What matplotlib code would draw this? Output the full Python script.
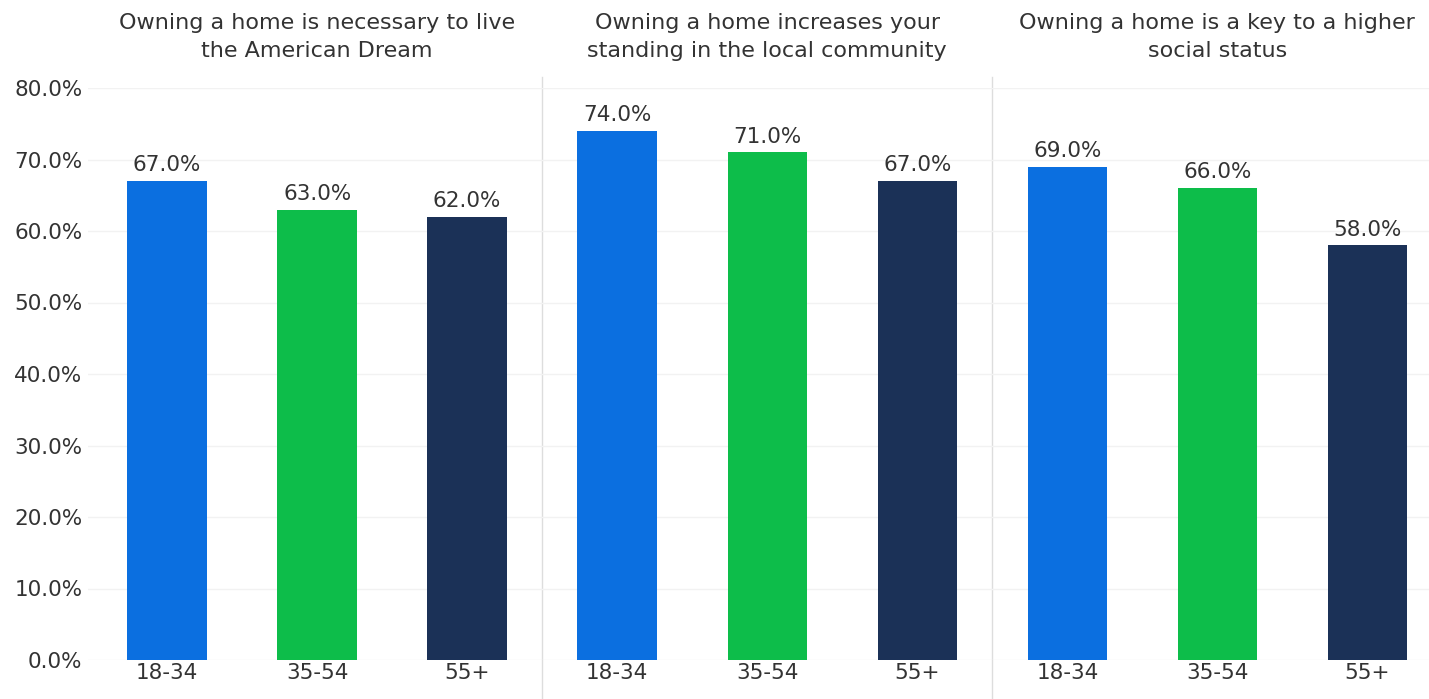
import matplotlib.pyplot as plt
import numpy as np

plt.rcParams['font.family'] = ['DejaVu Sans']

titles = ["Owning a home is necessary to live\nthe American Dream",
          "Owning a home increases your\nstanding in the local community",
          "Owning a home is a key to a higher\nsocial status"]
age_groups = ["18-34", "35-54", "55+"]
values = [[67.0, 63.0, 62.0],
          [74.0, 71.0, 67.0],
          [69.0, 66.0, 58.0]]
colors = ["#0b6fe0", "#0dbd4a", "#1b3157"]
text_color = "#333333"

fig = plt.figure(figsize=(14.29, 6.99), dpi=100)
ax = fig.add_axes([88 / 1429, 1 - 660 / 699, (1429 - 88) / 1429, (660 - 88) / 699])

x = np.arange(len(titles) * len(age_groups))
for p in range(len(titles)):
    for i in range(len(age_groups)):
        xi = p * len(age_groups) + i
        v = values[p][i]
        ax.bar(xi, v, width=0.53, color=colors[i], zorder=3)
        ax.text(xi, v + 0.8, "%.1f%%" % v, ha='center', va='bottom',
                fontsize=15.5, color=text_color)
    ax.text(p * 3 + 1, 1.048, titles[p], transform=ax.get_xaxis_transform(),
            ha='center', va='bottom', fontsize=16, color=text_color,
            linespacing=1.45)
    if p > 0:
        # panel separator runs a bit past the plot area, like the original
        ax.plot([p * 3 - 0.5] * 2, [-0.07, 1.02], color="#dddddd", lw=1,
                transform=ax.get_xaxis_transform(), clip_on=False, zorder=1)

ax.set_xlim(-0.527, 8.41)
ax.set_ylim(0, 80)
ax.set_yticks(np.arange(0, 81, 10))
ax.set_yticklabels(["%.1f%%" % t for t in np.arange(0, 81, 10)])
ax.set_xticks(x)
ax.set_xticklabels(age_groups * len(titles))
ax.tick_params(length=0, labelsize=15.5, colors=text_color, pad=4)
ax.tick_params(axis='x', pad=2)
ax.grid(axis='y', color="#f2f2f2", lw=1, zorder=0)
for s in ax.spines.values():
    s.set_visible(False)

fig.savefig("out.png")
